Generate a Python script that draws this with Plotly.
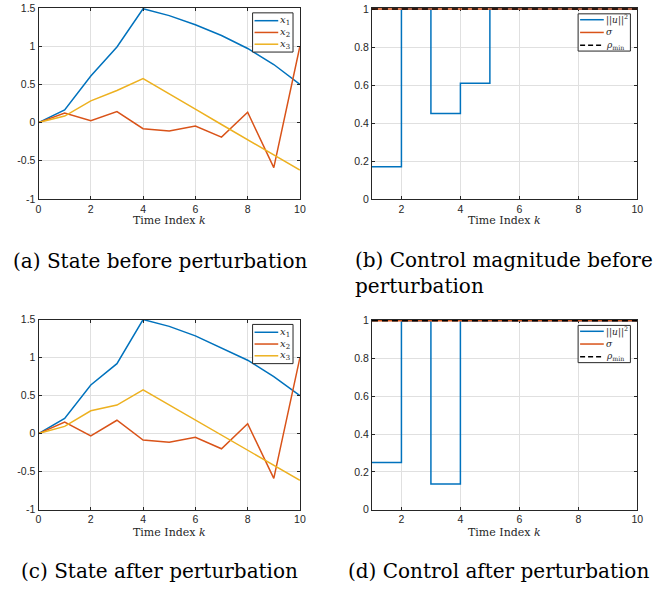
import plotly.graph_objects as go

W, H = 666, 594

# ---------------- data ----------------
k_state = [0, 1, 2, 3, 4, 5, 6, 7, 8, 9, 10]
x1_before = [0, 0.165, 0.61, 0.99, 1.49, 1.40, 1.28, 1.14, 0.97, 0.76, 0.50]
x2_before = [0, 0.125, 0.025, 0.145, -0.08, -0.11, -0.045, -0.19, 0.135, -0.59, 1.0]
x3_before = [0, 0.085, 0.285, 0.42, 0.575, 0.37, 0.175, -0.025, -0.225, -0.42, -0.62]

x1_after = [0, 0.20, 0.64, 0.92, 1.50, 1.41, 1.285, 1.13, 0.965, 0.75, 0.50]
x2_after = [0, 0.15, -0.03, 0.175, -0.085, -0.115, -0.05, -0.20, 0.13, -0.59, 1.0]
x3_after = [0, 0.095, 0.30, 0.375, 0.575, 0.375, 0.175, -0.02, -0.22, -0.42, -0.615]

k_ctrl = [1, 2, 3, 4, 5, 6, 7, 8, 9, 10]
u_before = [0.17, 1, 0.45, 0.61, 1, 1, 1, 1, 1, 1]
u_after = [0.25, 1, 0.135, 1, 1, 1, 1, 1, 1, 1]
sigma = [1, 1, 1, 1, 1, 1, 1, 1, 1, 1]
rho_min = [1, 1, 1, 1, 1, 1, 1, 1, 1, 1]

state_yticks = [-1, -0.5, 0, 0.5, 1, 1.5]
state_yticklabels = ["-1", "-0.5", "0", "0.5", "1", "1.5"]
state_xticks = [0, 2, 4, 6, 8, 10]
ctrl_xticks = [2, 4, 6, 8, 10]
ctrl_yticks = [0, 0.2, 0.4, 0.6, 0.8, 1]
ctrl_yticklabels = ["0", "0.2", "0.4", "0.6", "0.8", "1"]

state_names = ["<i>x</i><sub>1</sub>", "<i>x</i><sub>2</sub>", "<i>x</i><sub>3</sub>"]
ctrl_names = ["||<i>u</i>||<sup>2</sup>", "<i>σ</i>", "<i>ρ</i><sub>min</sub>"]
xlabel = "Time Index <i>k</i>"
captions = ["(a) State before perturbation",
            "(b) Control magnitude before<br>perturbation",
            "(c) State after perturbation",
            "(d) Control after perturbation"]

# ---------------- style ----------------
BLUE, ORANGE, YELLOW = "#0072BD", "#D95319", "#EDB120"
AXC = "#262626"
GRID = "#e0e0e0"
LW = 1.5

def px_x(p):
    return p / W

def px_y(p):
    return 1 - p / H

fig = go.Figure()

# state plots
for (x1, x2, x3, ax) in [(x1_before, x2_before, x3_before, ""),
                         (x1_after, x2_after, x3_after, "3")]:
    for ys, c in [(x1, BLUE), (x2, ORANGE), (x3, YELLOW)]:
        fig.add_trace(go.Scatter(x=k_state, y=ys, mode="lines",
                                 line=dict(color=c, width=LW),
                                 xaxis="x" + ax, yaxis="y" + ax, showlegend=False))

# control plots
for (u, ax) in [(u_before, "2"), (u_after, "4")]:
    fig.add_trace(go.Scatter(x=k_ctrl, y=u, mode="lines", line_shape="hv",
                             line=dict(color=BLUE, width=LW),
                             xaxis="x" + ax, yaxis="y" + ax, showlegend=False))
    fig.add_trace(go.Scatter(x=k_ctrl, y=sigma, mode="lines",
                             line=dict(color=ORANGE, width=LW),
                             xaxis="x" + ax, yaxis="y" + ax, showlegend=False))
    fig.add_trace(go.Scatter(x=k_ctrl, y=rho_min, mode="lines",
                             line=dict(color="black", width=LW, dash="6px,4px"),
                             xaxis="x" + ax, yaxis="y" + ax, showlegend=False))

tickfont = dict(family="Liberation Sans, Arial, sans-serif", size=10.5, color=AXC)

def axis_common():
    return dict(showline=True, linecolor=AXC, linewidth=1, mirror="ticks",
                ticks="inside", ticklen=3, tickcolor=AXC, tickwidth=1,
                showgrid=True, gridcolor=GRID, gridwidth=1, zeroline=False,
                tickfont=tickfont)

Lx = [px_x(36), px_x(301)]
Rx = [px_x(374), px_x(643)]
Ty = [px_y(197), px_y(2)]
By = [px_y(514), px_y(320)]

layout = dict(width=W, height=H, margin=dict(l=0, r=0, t=0, b=0),
              paper_bgcolor="white", plot_bgcolor="white", showlegend=False)

for ax, xd, yd, kind in [("", Lx, Ty, "s"), ("2", Rx, Ty, "c"),
                         ("3", Lx, By, "s"), ("4", Rx, By, "c")]:
    xa = axis_common()
    ya = axis_common()
    xa.update(domain=xd, anchor="y" + ax)
    ya.update(domain=yd, anchor="x" + ax)
    if kind == "s":
        xa.update(range=[0, 10], tickvals=state_xticks)
        ya.update(range=[-1, 1.5], tickvals=state_yticks, ticktext=state_yticklabels)
    else:
        xa.update(range=[1, 10], tickvals=ctrl_xticks, layer="below traces")
        ya.update(range=[0, 1.006], tickvals=ctrl_yticks, ticktext=ctrl_yticklabels,
                  layer="below traces")
    layout["xaxis" + ax] = xa
    layout["yaxis" + ax] = ya

fig.update_layout(**layout)

serif = "DejaVu Serif, serif"
ann = []
shapes = []

# x-axis titles
for cx, cy in [(168.5, 219), (508.5, 219), (168.5, 537), (508.5, 537)]:
    ann.append(dict(text=xlabel, x=px_x(cx), y=px_y(cy), xref="paper", yref="paper",
                    showarrow=False, xanchor="center", yanchor="middle",
                    font=dict(family=serif, size=11, color=AXC)))

# captions
cap_font = dict(family=serif, size=20, color="black")
ann.append(dict(text=captions[0], x=px_x(159), y=px_y(260), xref="paper", yref="paper",
                showarrow=False, xanchor="center", yanchor="middle", font=cap_font))
ann.append(dict(text=captions[1], x=px_x(355), y=px_y(272), xref="paper", yref="paper",
                showarrow=False, xanchor="left", yanchor="middle", align="left",
                font=cap_font))
ann.append(dict(text=captions[2], x=px_x(159), y=px_y(577), xref="paper", yref="paper",
                showarrow=False, xanchor="center", yanchor="middle", font=cap_font))
ann.append(dict(text=captions[3], x=px_x(502), y=px_y(577), xref="paper", yref="paper",
                showarrow=False, xanchor="center", yanchor="middle", font=cap_font))

# hand-built legends (MATLAB-like compact boxes)
def legend(box, rows, x0, x1, tx, names, styles, fsize):
    bx0, by0, bx1, by1 = box
    shapes.append(dict(type="rect", xref="paper", yref="paper",
                       x0=px_x(bx0), x1=px_x(bx1), y0=px_y(by0), y1=px_y(by1),
                       line=dict(color=AXC, width=1), fillcolor="white", layer="above"))
    for ry, name, (c, d) in zip(rows, names, styles):
        shapes.append(dict(type="line", xref="paper", yref="paper",
                           x0=px_x(x0), x1=px_x(x1), y0=px_y(ry), y1=px_y(ry),
                           line=dict(color=c, width=LW, dash=d), layer="above"))
        ann.append(dict(text=name, x=px_x(tx), y=px_y(ry), xref="paper", yref="paper",
                        showarrow=False, xanchor="left", yanchor="middle",
                        font=dict(family=serif, size=fsize, color=AXC), borderpad=0))

state_styles = [(BLUE, "solid"), (ORANGE, "solid"), (YELLOW, "solid")]
ctrl_styles = [(BLUE, "solid"), (ORANGE, "solid"), ("black", "5px,3px")]
for off in (0, 318):
    legend((253, 7 + off, 294, 47 + off), [15 + off, 27 + off, 39 + off],
           255, 279, 280, state_names, state_styles, 10)
    legend((583, 8 + off, 636, 46 + off), [14 + off, 27 + off, 40 + off],
           585, 609, 610, ctrl_names, ctrl_styles, 9)

fig.update_layout(annotations=ann, shapes=shapes)
fig.write_html("out.html", config={"displayModeBar": False},
               post_script="document.body.style.margin='0';document.body.style.overflow='hidden';")
